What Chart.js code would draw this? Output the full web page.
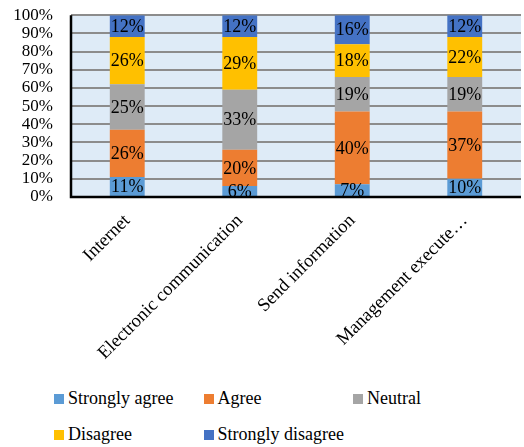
<!DOCTYPE html>
<html>
<head>
<meta charset="utf-8">
<script src="https://cdn.jsdelivr.net/npm/chart.js@4"></script>
<style>
    body { margin: 0; background: #fff; font-family: 'Liberation Serif', 'Times New Roman', serif; }
    #wrap { position: relative; width: 524px; height: 447px; overflow: hidden; }
    #chartBox { position: absolute; left: 0; top: -13px; width: 524px; height: 385px; }
    #legend { position: absolute; left: 54px; top: 388px; width: 460px; }
    .legend-item { position: absolute; display: flex; align-items: center; font-size: 18px; color: #000; white-space: nowrap; }
    .legend-box { width: 10px; height: 10px; margin-right: 4px; }
</style>
</head>
<body>
<div id="wrap">
    <div id="chartBox"><canvas id="chart"></canvas></div>
    <div id="legend"></div>
</div>
<script>
// Categories and response shares (%)
const categories = ['Internet', 'Electronic communication', 'Send information', 'Management execute…'];
const seriesNames = ['Strongly agree', 'Agree', 'Neutral', 'Disagree', 'Strongly disagree'];
const stronglyAgree = [11, 6, 7, 10];
const agree = [26, 20, 40, 37];
const neutral = [25, 33, 19, 19];
const disagree = [26, 29, 18, 22];
const stronglyDisagree = [12, 12, 16, 12];
const yTicks = [0, 10, 20, 30, 40, 50, 60, 70, 80, 90, 100];

const colors = ['#5B9BD5', '#ED7D31', '#A5A5A5', '#FFC000', '#4472C4'];
const seriesValues = [stronglyAgree, agree, neutral, disagree, stronglyDisagree];
const FONT = "'Liberation Serif', 'Times New Roman', serif";

// Light blue plot background
const plotBackground = {
    id: 'plotBackground',
    beforeDraw(chart) {
        const { ctx, chartArea: a } = chart;
        ctx.save();
        ctx.fillStyle = '#DEEBF7';
        ctx.fillRect(a.left, a.top, a.right - a.left, a.bottom - a.top);
        ctx.restore();
    }
};

// Percent labels centred in each segment
const segmentLabels = {
    id: 'segmentLabels',
    afterDatasetsDraw(chart) {
        const { ctx, chartArea: a } = chart;
        ctx.save();
        ctx.beginPath();
        ctx.rect(a.left, a.top, a.right - a.left, a.bottom - a.top);
        ctx.clip();
        ctx.font = `18px ${FONT}`;
        ctx.fillStyle = '#000';
        ctx.textAlign = 'center';
        ctx.textBaseline = 'middle';
        chart.data.datasets.forEach((ds, i) => {
            chart.getDatasetMeta(i).data.forEach((bar, j) => {
                const mid = (bar.y + bar.base) / 2;
                ctx.fillText(ds.data[j] + '%', bar.x, mid + 1);
            });
        });
        ctx.restore();
    }
};

// Black axis lines drawn over the grid
const axisLines = {
    id: 'axisLines',
    afterDatasetsDraw(chart) {
        const { ctx, chartArea: a } = chart;
        ctx.save();
        ctx.strokeStyle = '#000';
        ctx.lineWidth = 2.5;
        ctx.beginPath();
        ctx.moveTo(a.left, a.top);
        ctx.lineTo(a.left, a.bottom);
        ctx.lineTo(a.right, a.bottom);
        ctx.stroke();
        ctx.restore();
    }
};

const chart = new Chart(document.getElementById('chart'), {
    type: 'bar',
    data: {
        labels: categories,
        datasets: seriesNames.map((name, i) => ({
            label: name,
            data: seriesValues[i],
            backgroundColor: colors[i],
            borderWidth: 0,
            categoryPercentage: 1,
            barPercentage: 0.31
        }))
    },
    options: {
        responsive: true,
        maintainAspectRatio: false,
        animation: false,
        layout: { padding: { top: 0, right: 3, left: 0, bottom: 0 } },
        plugins: {
            legend: { display: false },
            tooltip: { enabled: false }
        },
        scales: {
            x: {
                stacked: true,
                grid: { display: false },
                border: { display: false },
                ticks: {
                    color: '#000',
                    font: { family: FONT, size: 18.5 },
                    minRotation: 45,
                    maxRotation: 45,
                    autoSkip: false,
                    padding: 5
                },
                afterFit(scale) { scale.height = 385 - 210; }
            },
            y: {
                stacked: true,
                min: 0,
                max: 100,
                afterBuildTicks(scale) { scale.ticks = yTicks.map(v => ({ value: v })); },
                grid: { color: '#8C8C8C', lineWidth: 2, drawTicks: false },
                border: { display: false },
                ticks: {
                    color: '#000',
                    font: { family: FONT, size: 17 },
                    padding: 18,
                    autoSkip: false,
                    callback: v => v + '%'
                },
                afterFit(scale) { scale.width = 71; }
            }
        }
    },
    plugins: [plotBackground, segmentLabels, axisLines]
});

// Legend laid out in a three-column grid
const legendEl = document.getElementById('legend');
chart.data.datasets.forEach((ds, i) => {
    const item = document.createElement('div');
    item.className = 'legend-item';
    item.style.left = (i % 3) * 149.5 + 'px';
    item.style.top = Math.floor(i / 3) * 36 + 'px';
    item.innerHTML = `<span class="legend-box" style="background:${ds.backgroundColor}"></span>${ds.label}`;
    legendEl.appendChild(item);
});
</script>
</body>
</html>
